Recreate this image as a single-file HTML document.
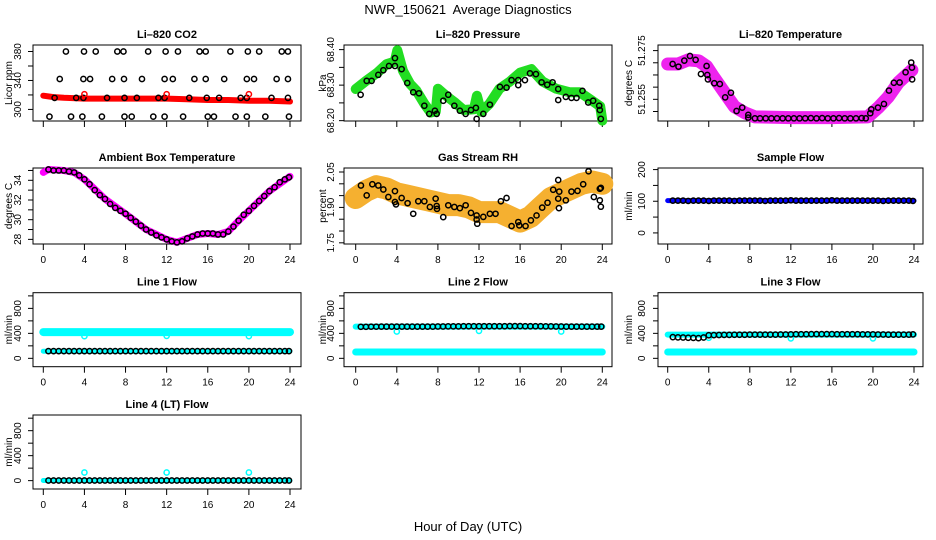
<!DOCTYPE html>
<html><head><meta charset="utf-8">
<style>
html,body{margin:0;padding:0;background:#fff;}
svg{display:block;font-family:"Liberation Sans",Arial,sans-serif;}
</style></head>
<body>
<svg id="chart" width="936" height="540" viewBox="0 0 936 540" xmlns="http://www.w3.org/2000/svg">
<rect x="0" y="0" width="936" height="540" fill="#fff"/>
<text x="468" y="14" text-anchor="middle" font-size="13">NWR_150621&#160; Average Diagnostics</text>
<text x="468" y="531" text-anchor="middle" font-size="13">Hour of Day (UTC)</text>
<g id="plots"></g>
</svg>
<script>
// ---------- data ----------
const xTicks = [0,4,8,12,16,20,24];

// CO2
const co2BandHours = [0,1,2,4,6,8,10,12,14,16,18,20,22,24];
const co2BandVals  = [319,317,316,315,315,315,315,315,314,313,313,312,312,311];
const co2Hours = [2.2,3.96,5.1,7.2,7.8,10.2,11.9,13.1,15.2,15.8,18.2,19.9,21.0,23.2,23.8,
 1.6,3.9,4.55,6.7,7.85,9.6,11.8,12.6,14.7,15.8,17.6,19.8,20.5,22.7,23.8,
 1.1,3.2,3.9,6.2,7.9,9.1,11.2,11.8,14.2,15.9,17.1,19.2,19.8,22.2,23.8,
 0.6,2.7,3.8,5.7,7.9,8.6,10.7,11.8,13.6,16.0,16.6,18.7,19.8,21.6,23.9];
const co2Vals = [380,380,380,380,380,380,380,380,380,380,380,380,380,380,380,
 342,342,342,342,342,342,342,342,342,342,342,342,342,342,342,
 316,316,316,316,316,316,316,316,316,316,316,316,316,316,316,
 290,290,290,290,290,290,290,290,290,290,290,290,290,290,290];
const co2RedHours = [4,12,20];
const co2RedVals = [321,321,321];

// Pressure
const presBandHours = [0,1,2.1,3,3.8,4.05,4.6,5.3,5.9,6.7,7.3,7.8,8.0,8.8,9.7,10.5,11.5,11.8,12.2,13,14,15,16,17.1,18.2,19.5,20.8,21.8,22.8,23.8,24];
const presBandVals  = [68.289,68.312,68.335,68.359,68.366,68.398,68.34,68.303,68.285,68.247,68.223,68.226,68.29,68.27,68.25,68.23,68.232,68.27,68.225,68.247,68.29,68.31,68.335,68.345,68.31,68.29,68.28,68.28,68.26,68.24,68.20];
const presHours = [0.48,1.07,1.55,2.2,2.69,3.24,3.82,3.82,4.47,5.02,5.6,6.16,6.68,7.16,7.71,7.88,8.52,9.01,9.6,10.14,10.7,11.22,11.7,11.77,12.42,13.06,14.04,14.68,15.17,15.82,15.82,16.47,16.96,17.54,18.09,18.64,19.16,19.71,19.71,20.45,21.0,21.49,22.07,22.63,23.11,23.7,23.76,23.86];
const presVals  = [68.273,68.312,68.312,68.329,68.342,68.354,68.354,68.376,68.345,68.306,68.280,68.277,68.242,68.219,68.228,68.219,68.256,68.273,68.242,68.228,68.219,68.230,68.236,68.205,68.219,68.245,68.295,68.293,68.314,68.314,68.300,68.314,68.333,68.331,68.308,68.301,68.308,68.289,68.258,68.267,68.264,68.264,68.284,68.251,68.256,68.242,68.230,68.205];

// Li-820 temperature
const tBandHours = [0,1,2,3,3.8,4.5,5.5,6.5,7.5,8.5,12,16,19.5,20.5,21.5,22.5,23.8];
const tBandVals  = [51.2695,51.2695,51.2712,51.2708,51.2685,51.264,51.258,51.252,51.2495,51.2478,51.2475,51.2475,51.2478,51.2515,51.256,51.262,51.267];
const tHours = [0.48,1.05,1.62,2.17,2.72,3.24,3.79,3.86,3.92,4.54,5.08,5.6,6.16,6.71,7.26,7.85,7.85,8.5,9.0,9.55,10.1,10.65,11.2,11.75,12.3,12.85,13.4,13.95,14.5,15.05,15.6,16.15,16.7,17.25,17.8,18.35,18.9,19.3,19.74,19.84,20.49,21.07,21.56,22.04,22.6,23.18,23.73,23.8,23.82];
const tVals = [51.2695,51.2684,51.2709,51.2728,51.2712,51.2654,51.2687,51.2650,51.2632,51.2616,51.2613,51.2558,51.2577,51.2502,51.2516,51.2486,51.2475,51.2472,51.2472,51.2472,51.2472,51.2472,51.2472,51.2472,51.2472,51.2472,51.2472,51.2473,51.2472,51.2473,51.2472,51.2472,51.2473,51.2472,51.2472,51.2472,51.2473,51.2472,51.2493,51.2509,51.2516,51.2531,51.2586,51.2618,51.2619,51.2661,51.2701,51.2680,51.2632];

// Ambient box temperature
const ambHours = [0.5,1,1.5,2,2.5,3,3.5,4,4.5,5,5.5,6,6.5,7,7.5,8,8.5,9,9.5,10,10.5,11,11.5,12,12.5,13,13.5,14,14.5,15,15.5,16,16.5,17,17.5,18,18.5,19,19.5,20,20.5,21,21.5,22,22.5,23,23.5,23.9];
const ambVals  = [35.1,35.0,35.0,35.0,34.9,34.8,34.5,34.1,33.6,33.0,32.5,32.1,31.6,31.2,30.9,30.6,30.2,29.8,29.4,29.0,28.7,28.4,28.2,28.0,27.8,27.7,27.8,28.1,28.3,28.5,28.6,28.6,28.6,28.5,28.5,28.8,29.3,29.9,30.5,30.9,31.4,31.9,32.4,32.9,33.3,33.8,34.1,34.3];
const ambBandHours = [0,0.5,2,3,4,6,8,10,12,13,14,15,16,17,18,19,20,22,24];
const ambBandVals  = [34.8,35.1,35.0,34.8,34.1,32.1,30.6,29.0,28.0,27.7,28.1,28.5,28.6,28.5,28.8,29.9,30.9,32.9,34.4];

// Gas stream RH
const rhBandHours = [0,1,2,3,4,5,6,7,8,9,10,11,12,13,14,15,16,17,18,19,20,21,22,23,24];
const rhBandVals  = [1.94,1.97,1.99,1.98,1.96,1.95,1.94,1.93,1.92,1.91,1.91,1.90,1.88,1.88,1.88,1.86,1.84,1.86,1.90,1.94,1.96,1.98,2.00,2.01,2.00];
const rhHours = [0.51,1.07,1.62,2.2,2.69,3.18,3.82,3.82,3.92,4.47,5.05,5.6,6.09,6.68,7.22,7.78,7.88,7.91,8.52,9.01,9.6,10.14,10.7,11.22,11.77,11.77,11.83,12.42,13.06,13.61,14.13,14.68,15.17,15.82,15.92,16.53,17.05,17.6,18.15,18.67,19.22,19.71,19.71,19.78,19.81,20.45,21.0,21.59,22.14,22.66,23.18,23.76,23.86,23.76,23.86];
const rhVals  = [1.993,1.951,1.998,1.993,1.976,1.944,1.969,1.923,1.913,1.940,1.918,1.873,1.926,1.926,1.902,1.937,1.906,1.894,1.859,1.909,1.902,1.897,1.909,1.877,1.866,1.849,1.831,1.860,1.873,1.873,1.926,1.940,1.821,1.838,1.824,1.821,1.845,1.866,1.899,1.920,1.975,2.016,1.937,1.897,1.967,1.930,1.967,1.970,1.998,2.053,1.944,1.979,1.983,1.930,1.903];

// flows (half-hourly samples)
const flowHours = [0.5,1,1.5,2,2.5,3,3.5,4,4.5,5,5.5,6,6.5,7,7.5,8,8.5,9,9.5,10,10.5,11,11.5,12,12.5,13,13.5,14,14.5,15,15.5,16,16.5,17,17.5,18,18.5,19,19.5,20,20.5,21,21.5,22,22.5,23,23.5,23.9];
const sampVals = [102,102,102,101,102,102,102,101,102,102,102,102,101,102,102,102,102,102,101,102,102,102,102,103,102,102,102,102,102,102,102,103,102,102,102,102,102,102,102,102,102,101,102,102,102,102,102,101];
const line1Vals = [115,115,115,115,115,115,115,115,115,115,115,115,115,115,115,115,115,115,115,115,115,115,115,115,115,115,115,115,115,115,115,115,115,115,115,115,115,115,115,115,115,115,115,115,115,115,115,115];
const line2Vals = [505,505,507,507,508,508,508,508,508,508,508,508,508,508,508,510,510,512,512,512,514,514,514,514,514,514,514,514,514,516,516,516,514,514,514,514,512,512,510,510,508,508,508,508,508,508,508,508];
const line3Vals = [340,336,334,330,328,324,334,370,372,374,376,376,378,378,378,380,380,380,380,380,380,382,382,384,386,386,386,388,388,388,388,388,386,386,386,386,386,384,384,384,382,382,380,380,380,380,380,384];
const line4Vals = [2,2,2,2,2,2,2,2,2,2,2,2,2,2,2,2,2,2,2,2,2,2,2,2,2,2,2,2,2,2,2,2,2,2,2,2,2,2,2,2,2,2,2,2,2,2,2,2];
const bandEnds = [0,24];
const sampBand = [102,102];
const line1HiBand = [420,420];
const line1LoBand = [115,115];
const line2HiBand = [508,508];
const line2LoBand = [102,102];
const line3HiBand = [380,380];
const line3LoBand = [102,102];
const line4LoBand = [2,2];
const dipHours = [4,12,20];
const line1Dips = [355,360,355];
const line2Dips = [430,440,430];
const line3Dips = [330,320,320];
const line4Spikes = [130,130,130];

// ---------- layout ----------
const NS = "http://www.w3.org/2000/svg";
const cols = [
 {bl:33, br:301, h0:43.3, h24:290, tick:17, title:8},
 {bl:344, br:612, h0:355.7, h24:602.3, tick:330, title:322},
 {bl:658, br:923, h0:667.7, h24:914, tick:641, title:628}
];
const rows = [{t:45,b:121,lab:false},{t:168,b:244,lab:true},{t:292.7,b:366.7,lab:true},{t:415,b:489,lab:true}];
const root = document.getElementById('plots');
function el(tag, attrs, parent){const e=document.createElementNS(NS,tag);for(const k in attrs)e.setAttribute(k,attrs[k]);(parent||root).appendChild(e);return e;}

function panel(name,title,ci,ri,ymin,ymax,yt,ylabs,ytitle){
  const c=cols[ci], r=rows[ri];
  const g=el('g',{});
  
  
  const sx=h=>c.h0+(c.h24-c.h0)*h/24;
  const sy=v=>r.b-(v-ymin)/(ymax-ymin)*(r.b-r.t);
  const box=el('rect',{x:c.bl,y:r.t,width:c.br-c.bl,height:r.b-r.t,fill:'none',stroke:'#000','stroke-width':1},g);
  
  
  const tt=el('text',{x:(c.bl+c.br)/2,y:r.t-7,'text-anchor':'middle','font-size':11,'font-weight':'bold'},g);
  tt.textContent=title;
  
  
  xTicks.forEach(h=>{
    el('line',{x1:sx(h),x2:sx(h),y1:r.b,y2:r.b+6,stroke:'#000'},g);
    if(r.lab){const t=el('text',{x:sx(h),y:r.b+19,'text-anchor':'middle','font-size':10},g);t.textContent=h;
      
      }
  });
  yt.forEach(v=>{el('line',{x1:c.bl,x2:c.bl-5,y1:sy(v),y2:sy(v),stroke:'#000'},g);});
  ylabs.forEach(l=>{
    const y=sy(l[0]);
    const t=el('text',{x:c.tick+4,y:y,'text-anchor':'middle','font-size':10,transform:`rotate(-90 ${c.tick+4} ${y})`},g);
    t.textContent=l[1];
    
    
  });
  const ym=(r.t+r.b)/2;
  const yl=el('text',{x:c.title+4,y:ym,'text-anchor':'middle','font-size':10,transform:`rotate(-90 ${c.title+4} ${ym})`},g);
  yl.textContent=ytitle;
  
  
  return {g,sx,sy};
}
function band(p,hs,vs,color,w,nm){
  const pts=hs.map((h,i)=>p.sx(h).toFixed(1)+','+p.sy(vs[i]).toFixed(1)).join(' ');
  const pl=el('polyline',{points:pts,fill:'none',stroke:color,'stroke-width':w,'stroke-linejoin':'round','stroke-linecap':'round'},p.g);
  
  
}
function pts(p,hs,vs,color,nm,r){
  hs.forEach((h,i)=>{
    const c=el('circle',{cx:p.sx(h),cy:p.sy(vs[i]),r:r||2.6,fill:'none',stroke:color,'stroke-width':1.5},p.g);
    
    
  });
}
const flowT=[0,200,400,600,800,1000], flowL=[[0,'0'],[400,'400'],[800,'800']];

// CO2
let p=panel('co2','Li\u2013820 CO2',0,0,284,389,[300,320,340,360,380],[[300,'300'],[340,'340'],[380,'380']],'Licor ppm');
band(p,co2BandHours,co2BandVals,'#ff0000',6,'co2-red-band');
pts(p,co2Hours,co2Vals,'#000','co2-point');
pts(p,co2RedHours,co2RedVals,'#ff0000','co2-red-point');

// Pressure
p=panel('pressure','Li\u2013820 Pressure',1,0,68.199,68.413,[68.20,68.25,68.30,68.35,68.40],[[68.20,'68.20'],[68.30,'68.30'],[68.40,'68.40']],'kPa');
band(p,presBandHours,presBandVals,'#22dd22',10,'pressure-green-band');
pts(p,presHours,presVals,'#000','pressure-point');

// Li-820 temperature
p=panel('li820-temp','Li\u2013820 Temperature',2,0,51.2461,51.2773,[51.250,51.255,51.260,51.265,51.270,51.275],[[51.275,'51.275'],[51.255,'51.255']],'degrees C');
band(p,tBandHours,tBandVals,'#ee22ee',13,'li820-temp-magenta-band');
pts(p,tHours,tVals,'#000','li820-temp-point');

// Ambient
p=panel('ambient','Ambient Box Temperature',0,1,27.53,35.25,[28,29,30,31,32,33,34,35],[[28,'28'],[30,'30'],[32,'32'],[34,'34']],'degrees C');
band(p,ambBandHours,ambBandVals,'#ff00ff',7,'ambient-magenta-band');
pts(p,ambHours,ambVals,'#000','ambient-point');

// RH
p=panel('rh','Gas Stream RH',1,1,1.745,2.067,[1.75,1.80,1.85,1.90,1.95,2.00,2.05],[[1.75,'1.75'],[1.90,'1.90'],[2.05,'2.05']],'percent');
band(p,rhBandHours,rhBandVals,'#f5b030',22,'rh-orange-band');
pts(p,rhHours,rhVals,'#000','rh-point');

// Sample flow
p=panel('sample-flow','Sample Flow',2,1,-35,205,[0,50,100,150,200],[[0,'0'],[100,'100'],[200,'200']],'ml/min');
band(p,bandEnds,sampBand,'#0000ff',5,'sample-flow-blue-band');
pts(p,flowHours,sampVals,'#000','sample-flow-point');

// Line 1
p=panel('line1','Line 1 Flow',0,2,-134,1051,flowT,flowL,'ml/min');
band(p,bandEnds,line1HiBand,'#00ffff',8,'line1-cyan-band');
band(p,bandEnds,line1LoBand,'#00ffff',5,'line1-cyan-low-band');
pts(p,dipHours,line1Dips,'#00ffff','line1-cyan-dip');
pts(p,flowHours,line1Vals,'#000','line1-point');

// Line 2
p=panel('line2','Line 2 Flow',1,2,-134,1051,flowT,flowL,'ml/min');
band(p,bandEnds,line2HiBand,'#00ffff',6,'line2-cyan-band');
band(p,bandEnds,line2LoBand,'#00ffff',7,'line2-cyan-low-band');
pts(p,dipHours,line2Dips,'#00ffff','line2-cyan-dip');
pts(p,flowHours,line2Vals,'#000','line2-point');

// Line 3
p=panel('line3','Line 3 Flow',2,2,-134,1051,flowT,flowL,'ml/min');
band(p,bandEnds,line3HiBand,'#00ffff',6,'line3-cyan-band');
band(p,bandEnds,line3LoBand,'#00ffff',7,'line3-cyan-low-band');
pts(p,dipHours,line3Dips,'#00ffff','line3-cyan-dip');
pts(p,flowHours,line3Vals,'#000','line3-point');

// Line 4
p=panel('line4','Line 4 (LT) Flow',0,3,-134,1051,flowT,flowL,'ml/min');
band(p,bandEnds,line4LoBand,'#00ffff',5,'line4-cyan-band');
pts(p,dipHours,line4Spikes,'#00ffff','line4-cyan-spike');
pts(p,flowHours,line4Vals,'#000','line4-point');
</script>
</body></html>
